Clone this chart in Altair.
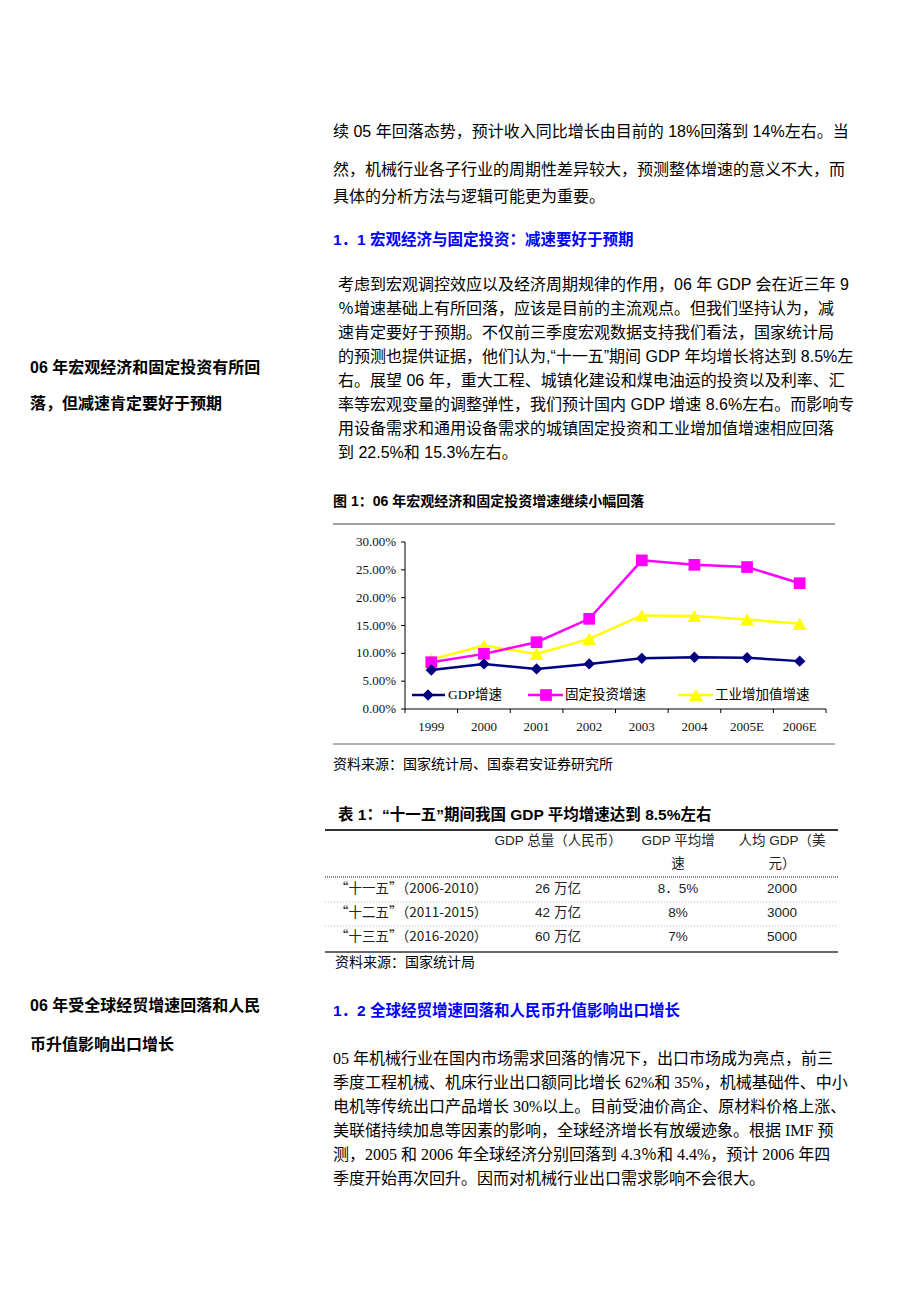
import altair as alt
import pandas as pd

# ---------------- chart data ----------------
years = ["1999", "2000", "2001", "2002", "2003", "2004", "2005E", "2006E"]
gdp_growth = [0.070, 0.081, 0.072, 0.081, 0.091, 0.093, 0.092, 0.086]
fai_growth = [0.084, 0.099, 0.120, 0.162, 0.267, 0.259, 0.255, 0.226]
iva_growth = [0.089, 0.114, 0.099, 0.126, 0.168, 0.167, 0.161, 0.153]
series_names = ["GDP增速", "固定投资增速", "工业增加值增速"]
y_ticks = [0.0, 0.05, 0.10, 0.15, 0.20, 0.25, 0.30]

# ---------------- table data ----------------
periods = ["“十一五”（2006-2010）", "“十二五”（2011-2015）", "“十三五”（2016-2020）"]
gdp_total = ["26 万亿", "42 万亿", "60 万亿"]
gdp_avg_growth = ["8．5%", "8%", "7%"]
gdp_per_capita = ["2000", "3000", "5000"]
table_head_1 = ["GDP 总量（人民币）", "GDP 平均增", "人均 GDP（美"]
table_head_2 = ["", "速", "元）"]

# ---------------- page texts ----------------
para1_first = "续 05 年回落态势，预计收入同比增长由目前的 18%回落到 14%左右。当"
para1_rest = [
    "然，机械行业各子行业的周期性差异较大，预测整体增速的意义不大，而",
    "具体的分析方法与逻辑可能更为重要。",
]
heading1 = "1．1 宏观经济与固定投资：减速要好于预期"
para2 = [
    "考虑到宏观调控效应以及经济周期规律的作用，06 年 GDP 会在近三年 9",
    "％增速基础上有所回落，应该是目前的主流观点。但我们坚持认为，减",
    "速肯定要好于预期。不仅前三季度宏观数据支持我们看法，国家统计局",
    "的预测也提供证据，他们认为,“十一五”期间 GDP 年均增长将达到 8.5%左",
    "右。展望 06 年，重大工程、城镇化建设和煤电油运的投资以及利率、汇",
    "率等宏观变量的调整弹性，我们预计国内 GDP 增速 8.6%左右。而影响专",
    "用设备需求和通用设备需求的城镇固定投资和工业增加值增速相应回落",
    "到 22.5%和 15.3%左右。",
]
side1 = ["06 年宏观经济和固定投资有所回", "落，但减速肯定要好于预期"]
fig_title = "图 1：06 年宏观经济和固定投资增速继续小幅回落"
fig_source = "资料来源：国家统计局、国泰君安证券研究所"
table_title = "表 1：“十一五”期间我国 GDP 平均增速达到 8.5%左右"
table_source = "资料来源：国家统计局"
side2 = ["06 年受全球经贸增速回落和人民", "币升值影响出口增长"]
heading2 = "1．2  全球经贸增速回落和人民币升值影响出口增长"
para3 = [
    "05 年机械行业在国内市场需求回落的情况下，出口市场成为亮点，前三",
    "季度工程机械、机床行业出口额同比增长 62%和 35%，机械基础件、中小",
    "电机等传统出口产品增长 30%以上。目前受油价高企、原材料价格上涨、",
    "美联储持续加息等因素的影响，全球经济增长有放缓迹象。根据 IMF 预",
    "测，2005 和 2006 年全球经济分别回落到 4.3％和 4.4%，预计 2006 年四",
    "季度开始再次回升。因而对机械行业出口需求影响不会很大。",
]

# ---------------- styling ----------------
SANS = "Liberation Sans, Noto Sans CJK SC"
SERIF = "Liberation Serif, Noto Sans CJK SC"
CJK = "Noto Sans CJK SC"
BLUE = "#0000ff"
NAVY = "#000080"
MAGENTA = "#ff00ff"
YELLOW = "#ffff00"

X_SCALE = alt.Scale(domain=[-0.5, 7.5], range=[397, 818], nice=False, zero=False)
Y_SCALE = alt.Scale(domain=[0, 0.30], range=[701, 534], nice=False, zero=False)

ONE = alt.InlineData(values=[{"k": 0}])
layers = []


def txt(s, x, y, size=16, weight="normal", color="#000000", font=SANS, align="left"):
    return alt.Chart(ONE).mark_text(
        align=align, baseline="middle", fontSize=size, fontWeight=weight,
        color=color, font=font
    ).encode(x=alt.value(x), y=alt.value(y), text=alt.value(s))


def hrule(x1, x2, y, color="#333333", width=1.0, dash=None):
    kw = dict(color=color, strokeWidth=width)
    if dash:
        kw["strokeDash"] = dash
    return alt.Chart(ONE).mark_rule(**kw).encode(
        x=alt.value(x1), x2=alt.value(x2), y=alt.value(y))


# ---- body text ----
layers.append(txt(para1_first, 325, 124))
for k, line in enumerate(para1_rest):
    layers.append(txt(line, 325, 162 + 27 * k))
layers.append(txt(heading1, 325, 232, size=15.5, weight="bold", color=BLUE))
for k, line in enumerate(para2):
    layers.append(txt(line, 330, 277 + 24 * k))
layers.append(txt(side1[0], 22, 360, weight="bold"))
layers.append(txt(side1[1], 22, 396, weight="bold"))

# ---- figure frame ----
layers.append(txt(fig_title, 325, 494, size=14, weight="bold"))
layers.append(hrule(325, 827, 516, color="#444444", width=1))
layers.append(hrule(325, 827, 736, color="#666666", width=1))
layers.append(txt(fig_source, 325, 757, size=14))

# ---- axes ----
ax_df = pd.DataFrame({"i": [-0.5], "i2": [7.5], "v": [0.0], "v2": [0.30]})
layers.append(alt.Chart(ax_df).mark_rule(color="#000000", strokeWidth=1).encode(
    x=alt.X("i:Q", scale=X_SCALE, axis=None),
    y=alt.Y("v:Q", scale=Y_SCALE, axis=None), y2="v2:Q"))
layers.append(alt.Chart(ax_df).mark_rule(color="#000000", strokeWidth=1).encode(
    x=alt.X("i:Q", scale=X_SCALE, axis=None), x2="i2:Q",
    y=alt.Y("v:Q", scale=Y_SCALE, axis=None)))

yt_df = pd.DataFrame({"v": y_ticks})
layers.append(alt.Chart(yt_df).mark_rule(color="#000000", strokeWidth=1).encode(
    x=alt.value(393), x2=alt.value(397),
    y=alt.Y("v:Q", scale=Y_SCALE, axis=None)))
layers.append(alt.Chart(yt_df).mark_text(
    align="right", baseline="middle", fontSize=13, font=SERIF, color="#111111"
).encode(x=alt.value(388), y=alt.Y("v:Q", scale=Y_SCALE, axis=None),
         text=alt.Text("v:Q", format=".2%")))

xb_df = pd.DataFrame({"b": [i - 0.5 for i in range(len(years) + 1)]})
layers.append(alt.Chart(xb_df).mark_rule(color="#000000", strokeWidth=1).encode(
    x=alt.X("b:Q", scale=X_SCALE, axis=None), y=alt.value(701), y2=alt.value(705)))

xl_df = pd.DataFrame({"i": list(range(len(years))), "year": years})
layers.append(alt.Chart(xl_df).mark_text(
    align="center", baseline="middle", fontSize=13, font=SERIF, color="#111111"
).encode(x=alt.X("i:Q", scale=X_SCALE, axis=None), y=alt.value(719), text="year:N"))


# ---- series ----
def series_layer(vals, color, shape, size):
    df = pd.DataFrame({"i": list(range(len(years))), "year": years, "v": vals})
    base = alt.Chart(df).encode(
        x=alt.X("i:Q", scale=X_SCALE, axis=None),
        y=alt.Y("v:Q", scale=Y_SCALE, axis=None))
    return alt.layer(
        base.mark_line(color=color, strokeWidth=2.5),
        base.mark_point(shape=shape, size=size, filled=True, color=color, opacity=1),
    )


layers.append(series_layer(iva_growth, YELLOW, "triangle-up", 196))
layers.append(series_layer(fai_growth, MAGENTA, "square", 137))
layers.append(series_layer(gdp_growth, NAVY, "diamond", 130))

# ---- legend ----
legend_items = [
    (series_names[0], NAVY, "diamond", 130, 404, 437, 420, 440),
    (series_names[1], MAGENTA, "square", 137, 520, 555, 538, 557),
    (series_names[2], YELLOW, "triangle-up", 196, 670, 705, 688, 707),
]
for name, color, shape, size, lx1, lx2, mx, tx in legend_items:
    layers.append(alt.Chart(ONE).mark_rule(color=color, strokeWidth=2.5).encode(
        x=alt.value(lx1), x2=alt.value(lx2), y=alt.value(687)))
    layers.append(alt.Chart(ONE).mark_point(
        shape=shape, size=size, filled=True, color=color, opacity=1
    ).encode(x=alt.value(mx), y=alt.value(687)))
    layers.append(txt(name, tx, 687, size=13.5, font=SERIF))

# ---- table ----
layers.append(txt(table_title, 330, 807, size=15.5, weight="bold"))
layers.append(hrule(317, 830, 822, color="#333333", width=2))
layers.append(hrule(317, 830, 869, color="#888888", width=2, dash=[1, 1]))
layers.append(hrule(317, 830, 894, color="#bbbbbb", width=1, dash=[1, 2]))
layers.append(hrule(317, 830, 918, color="#bbbbbb", width=1, dash=[1, 2]))
layers.append(hrule(317, 830, 944, color="#333333", width=1.5))
col_x = [550, 670, 774]
for k in range(3):
    layers.append(txt(table_head_1[k], col_x[k], 833, size=13.5, align="center", color="#222222"))
    if table_head_2[k]:
        layers.append(txt(table_head_2[k], col_x[k], 856, size=13.5, align="center", color="#222222"))

tab_df = pd.DataFrame({"period": periods, "total": gdp_total,
                       "growth": gdp_avg_growth, "percap": gdp_per_capita})
ROW_SCALE = alt.Scale(type="point", domain=periods, range=[881, 929], padding=0)
for field, x, align, font in [("period", 327, "left", CJK), ("total", 550, "center", SANS),
                              ("growth", 670, "center", SANS), ("percap", 774, "center", SANS)]:
    layers.append(alt.Chart(tab_df).mark_text(
        align=align, baseline="middle", fontSize=13.5, font=font, color="#222222"
    ).encode(x=alt.value(x), y=alt.Y("period:N", scale=ROW_SCALE, axis=None),
             text=f"{field}:N"))
layers.append(txt(table_source, 327, 955, size=14))

# ---- section 1.2 ----
layers.append(txt(side2[0], 22, 998, weight="bold"))
layers.append(txt(side2[1], 22, 1037, weight="bold"))
layers.append(txt(heading2, 325, 1003, size=15.5, weight="bold", color=BLUE))
for k, line in enumerate(para3):
    layers.append(txt(line, 325, 1051 + 24 * k, font=SERIF))

chart = alt.layer(*layers).resolve_scale(
    x="independent", y="independent"
).properties(
    width=904, height=1286, autosize="none", padding=0, background="white"
).configure_view(stroke=None)

chart.save("out.html", embed_options={"renderer": "svg", "actions": False})
